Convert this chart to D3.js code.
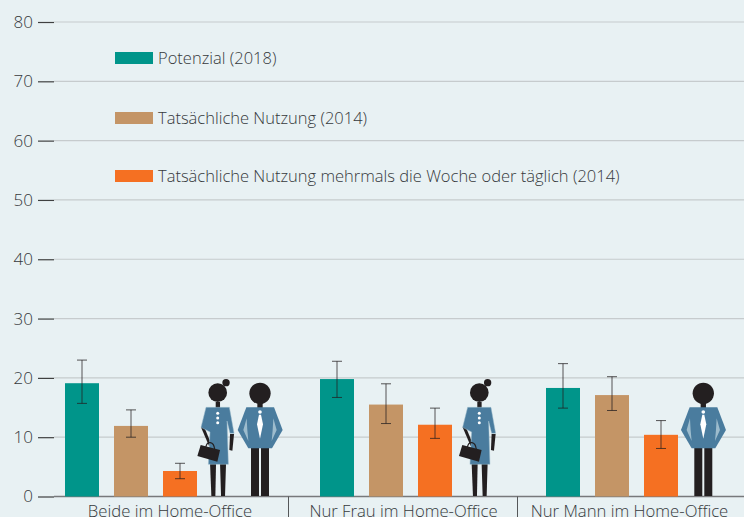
<!DOCTYPE html>
<html>
<head>
<meta charset="utf-8">
<script src="https://cdn.jsdelivr.net/npm/d3@7"></script>
<style>
    html, body { margin: 0; padding: 0; background: #e8f1f3; overflow: hidden; }
    text { font-family: "Open Sans", "Noto Sans", sans-serif; font-weight: 300; fill: #36393c; }
</style>
</head>
<body>
<div id="chart"></div>
<script>
// values
const groups = ["Beide im Home-Office", "Nur Frau im Home-Office", "Nur Mann im Home-Office"];
const seriesNames = ["Potenzial (2018)", "Tatsächliche Nutzung (2014)", "Tatsächliche Nutzung mehrmals die Woche oder täglich (2014)"];
const potenzial = [19.1, 19.8, 18.3];
const potenzialLow = [15.7, 16.7, 14.9];
const potenzialHigh = [23.0, 22.8, 22.4];
const nutzung = [11.9, 15.5, 17.1];
const nutzungLow = [10.0, 12.3, 14.5];
const nutzungHigh = [14.6, 19.0, 20.2];
const mehrmals = [4.3, 12.1, 10.4];
const mehrmalsLow = [3.0, 9.8, 8.1];
const mehrmalsHigh = [5.6, 14.9, 12.8];
const yTicks = [0, 10, 20, 30, 40, 50, 60, 70, 80];
const figures = [["woman", "man"], ["woman"], ["man"]];

const width = 744;
const height = 517;
const colors = ["#00958a", "#c49566", "#f57022"];

const svg = d3.select("#chart").append("svg")
    .attr("width", width)
    .attr("height", height)
    .style("display", "block");

svg.append("rect").attr("width", width).attr("height", height).attr("fill", "#e8f1f3");

const y = d3.scaleLinear().domain([0, 80]).range([496.5, 22]);
// the groups are not evenly spaced in the original
const groupX = d3.scaleOrdinal().domain(groups).range([65, 320, 546]);
const labelX = d3.scaleOrdinal().domain(groups).range([170, 403.5, 629.5]);
const figureX = d3.scaleOrdinal().domain(groups).range([217.7, 479.3, 703.3]);
const barX = d3.scaleBand().domain([0, 1, 2]).range([0, 132]).paddingInner(15 / 49).paddingOuter(0);

// gridlines
svg.append("g")
    .selectAll("line")
    .data(yTicks.slice(1))
    .enter().append("line")
    .attr("x1", 54)
    .attr("x2", width)
    .attr("y1", d => y(d))
    .attr("y2", d => y(d))
    .attr("stroke", "#c6cbcd")
    .attr("stroke-width", 1.2);

// y axis, only ticks and labels
const axis = svg.append("g")
    .attr("transform", "translate(54,0)")
    .call(d3.axisLeft(y).tickValues(yTicks).tickSize(16).tickPadding(5));
axis.select(".domain").remove();
axis.selectAll("line").attr("stroke", "#3f4040").attr("stroke-width", 1.2);
axis.selectAll("text").style("font-size", "17px").attr("fill", null);

// baseline and group separators
svg.append("line")
    .attr("x1", 54).attr("x2", width)
    .attr("y1", y(0)).attr("y2", y(0))
    .attr("stroke", "#77797b")
    .attr("stroke-width", 1.4);
svg.append("g")
    .selectAll("line")
    .data(groups.slice(1))
    .enter().append("line")
    .attr("x1", (d, i) => [288.5, 517.5][i])
    .attr("x2", (d, i) => [288.5, 517.5][i])
    .attr("y1", y(0))
    .attr("y2", height)
    .attr("stroke", "#555759")
    .attr("stroke-width", 1);

// bars and error bars
const seriesValues = [potenzial, nutzung, mehrmals];
const seriesLow = [potenzialLow, nutzungLow, mehrmalsLow];
const seriesHigh = [potenzialHigh, nutzungHigh, mehrmalsHigh];

groups.forEach(function (g, gi) {
    const gr = svg.append("g").attr("transform", "translate(" + groupX(g) + ",0)");
    seriesValues.forEach(function (vals, si) {
        const cx = barX(si) + barX.bandwidth() / 2;
        gr.append("rect")
            .attr("x", barX(si))
            .attr("y", y(vals[gi]))
            .attr("width", barX.bandwidth())
            .attr("height", y(0) - y(vals[gi]))
            .attr("fill", colors[si]);
        const err = gr.append("g")
            .attr("stroke", "#231f20")
            .attr("stroke-width", 1)
            .attr("stroke-opacity", 0.75);
        err.append("line")
            .attr("x1", cx).attr("x2", cx)
            .attr("y1", y(seriesLow[si][gi])).attr("y2", y(seriesHigh[si][gi]));
        [seriesLow[si][gi], seriesHigh[si][gi]].forEach(function (v) {
            err.append("line")
                .attr("x1", cx - 5).attr("x2", cx + 5)
                .attr("y1", y(v)).attr("y2", y(v));
        });
    });
});

// category labels sit tight on the bottom edge like the original
svg.append("g")
    .selectAll("text")
    .data(groups)
    .enter().append("text")
    .attr("x", d => labelX(d))
    .attr("y", 516.5)
    .attr("text-anchor", "middle")
    .style("font-size", "16.7px")
    .text(d => d);

// legend
const legend = svg.append("g")
    .selectAll("g")
    .data(seriesNames)
    .enter().append("g")
    .attr("transform", (d, i) => "translate(115," + [52, 112, 170][i] + ")");
legend.append("rect")
    .attr("width", 38)
    .attr("height", 12)
    .attr("fill", (d, i) => colors[i]);
legend.append("text")
    .attr("x", 43)
    .attr("y", 11.5)
    .style("font-size", "16.5px")
    .text(d => d);

// pictograms, drawn at 3x around the feet and scaled down
const ink = "#231f20";
const coat = "#4a7c9e";
const rim = "#9dbccd";

function drawWoman(g) {
    g.append("path").attr("fill", ink).attr("d", "M-6,-282H7V-262H-6Z");
    g.append("circle").attr("cx", 0).attr("cy", -310).attr("r", 28).attr("fill", ink);
    g.append("circle").attr("cx", 25).attr("cy", -340).attr("r", 11).attr("fill", ink);
    // legs
    g.append("path").attr("fill", ink).attr("d", "M-23,-98H-5L-7,0H-19Z");
    g.append("path").attr("fill", ink).attr("d", "M7,-98H25L22,0H10Z");
    // forearms
    g.append("path").attr("fill", ink).attr("d", "M-50,-206L-42,-211L-19,-155L-26,-150Z");
    g.append("path").attr("fill", ink).attr("d", "M37,-186H49L44,-136L35,-138Z");
    // coat
    g.append("path").attr("fill", coat).attr("stroke", rim).attr("stroke-width", 1.5)
        .attr("d", "M-35,-266H35L49,-188H37L28,-225L32,-95H-28L-23,-192L-50,-206Z");
    [-248, -234, -220].forEach(function (by) {
        g.append("circle").attr("cx", 0).attr("cy", by).attr("r", 4.5).attr("fill", "#fff");
    });
    // bag
    g.append("path").attr("fill", "none").attr("stroke", ink).attr("stroke-width", 3.5)
        .attr("d", "M-36,-146C-32,-166 -12,-166 -9,-140");
    g.append("path").attr("fill", ink).attr("d", "M-51,-153L7,-138L-1,-103L-61,-120Z");
}

function drawMan(g) {
    g.append("circle").attr("cx", 0).attr("cy", -308).attr("r", 32).attr("fill", ink);
    g.append("path").attr("fill", ink).attr("d", "M-8,-285H8V-262H-8Z");
    // legs
    g.append("path").attr("fill", ink).attr("d", "M-27,-145H-3V0H-27Z");
    g.append("path").attr("fill", ink).attr("d", "M3,-145H27V0H3Z");
    // jacket
    g.append("path").attr("fill", coat)
        .attr("d", "M-41,-266H42L68,-198L36,-143H-35L-67,-198Z");
    // light wedges between the arms and the body
    g.append("path").attr("fill", rim)
        .attr("d", "M-40,-233L-50,-198L-35,-165L-38,-198ZM40,-233L50,-198L35,-165L38,-198Z");
    g.append("circle").attr("cx", 0).attr("cy", -252).attr("r", 5.5).attr("fill", "#fff");
    g.append("path").attr("fill", "#fff").attr("d", "M-3,-244H3L9,-215L0,-172L-9,-215Z");
}

groups.forEach(function (g, gi) {
    figures[gi].forEach(function (kind) {
        const cx = figureX(g) + (kind === "man" && gi === 0 ? 42.3 : 0);
        const fig = svg.append("g")
            .attr("transform", "translate(" + cx + "," + (y(0) - 0.5) + ") scale(" + (1 / 3) + ")");
        if (kind === "woman") {
            drawWoman(fig);
        } else {
            drawMan(fig);
        }
    });
});
</script>
</body>
</html>
